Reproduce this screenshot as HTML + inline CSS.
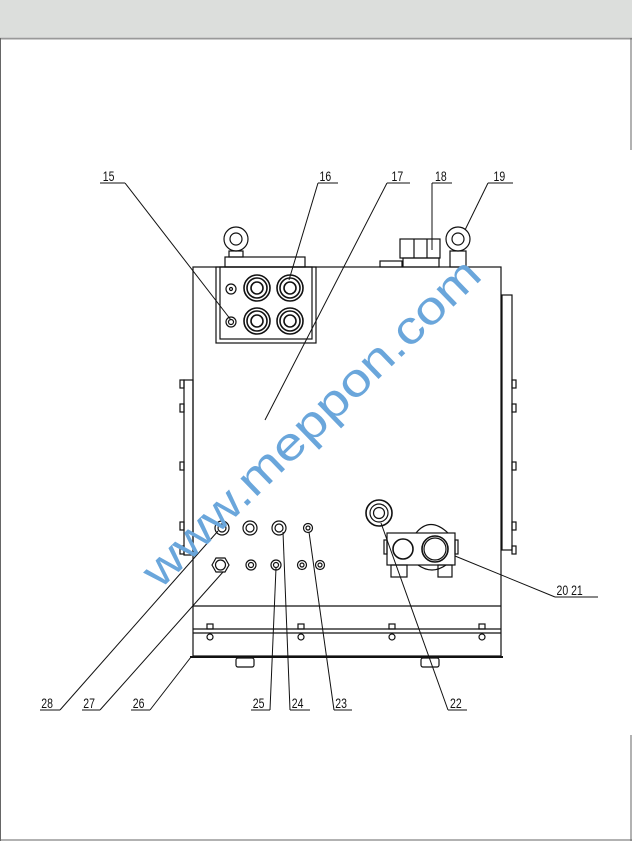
<!DOCTYPE html>
<html><head><meta charset="utf-8"><style>
html,body{margin:0;padding:0;width:632px;height:841px;overflow:hidden;background:#fff}
svg{display:block}
text{font-family:"Liberation Sans",sans-serif}
</style></head><body>
<svg width="632" height="841" viewBox="0 0 632 841">
<rect x="0" y="0" width="632" height="37" fill="#dcdedc"/>
<line x1="0" y1="38.5" x2="632" y2="38.5" stroke="#999" stroke-width="2"/>
<line x1="0.5" y1="38" x2="0.5" y2="841" stroke="#666"/>
<line x1="631" y1="38" x2="631" y2="150" stroke="#666"/>
<line x1="631" y1="735" x2="631" y2="841" stroke="#666"/>
<line x1="0" y1="840" x2="632" y2="840" stroke="#666"/>
<g fill="none" stroke="#111" stroke-width="1.2">
<rect x="193" y="267" width="308" height="389"/>
<line x1="193" y1="606" x2="501" y2="606"/>
<line x1="193" y1="629" x2="501" y2="629"/>
<line x1="193" y1="633" x2="501" y2="633"/>
<line x1="190" y1="657" x2="503" y2="657" stroke-width="2"/>
<rect x="502" y="295" width="10" height="255"/>
<rect x="184" y="380" width="9" height="175"/>
<rect x="180" y="380" width="4" height="8"/><rect x="180" y="404" width="4" height="8"/><rect x="180" y="462" width="4" height="8"/><rect x="180" y="522" width="4" height="8"/><rect x="180" y="546" width="4" height="8"/>
<rect x="512" y="380" width="4" height="8"/><rect x="512" y="404" width="4" height="8"/><rect x="512" y="462" width="4" height="8"/><rect x="512" y="522" width="4" height="8"/><rect x="512" y="546" width="4" height="8"/>
<g>
<circle cx="210" cy="637" r="3"/><rect x="207" y="624" width="6" height="5"/>
<circle cx="301" cy="637" r="3"/><rect x="298" y="624" width="6" height="5"/>
<circle cx="392" cy="637" r="3"/><rect x="389" y="624" width="6" height="5"/>
<circle cx="482" cy="637" r="3"/><rect x="479" y="624" width="6" height="5"/>
</g>
<rect x="236" y="658" width="18" height="9" rx="2"/>
<rect x="421" y="658" width="18" height="9" rx="2"/>
<rect x="216" y="267" width="100" height="76"/>
<rect x="220" y="267" width="92" height="72"/>
<rect x="225" y="257" width="80" height="10"/>
<circle cx="231" cy="289" r="5"/><circle cx="231" cy="289" r="1.5"/>
<circle cx="231" cy="322" r="5"/><circle cx="231" cy="322" r="2.5"/>
<g stroke-width="1.6">
<circle cx="257" cy="288" r="13"/><circle cx="257" cy="288" r="10"/><circle cx="257" cy="288" r="6"/>
<circle cx="290" cy="288" r="13"/><circle cx="290" cy="288" r="10"/><circle cx="290" cy="288" r="6"/>
<circle cx="257" cy="321" r="13"/><circle cx="257" cy="321" r="10"/><circle cx="257" cy="321" r="6"/>
<circle cx="290" cy="321" r="13"/><circle cx="290" cy="321" r="10"/><circle cx="290" cy="321" r="6"/>
</g>
<circle cx="236" cy="239" r="12"/><circle cx="236" cy="239" r="6"/>
<rect x="229" y="251" width="14" height="6"/>
<circle cx="458" cy="239" r="12"/><circle cx="458" cy="239" r="6"/>
<rect x="450" y="251" width="16" height="16"/>
<rect x="400" y="239" width="40" height="19"/>
<line x1="414" y1="239" x2="414" y2="258"/><line x1="427" y1="239" x2="427" y2="258"/>
<rect x="403" y="258" width="36" height="9"/>
<rect x="380" y="261" width="22" height="6"/>
<circle cx="222" cy="528" r="7"/><circle cx="222" cy="528" r="4"/>
<circle cx="250" cy="528" r="7"/><circle cx="250" cy="528" r="4"/>
<circle cx="279" cy="528" r="7"/><circle cx="279" cy="528" r="4"/>
<circle cx="308" cy="528" r="4.5"/><circle cx="308" cy="528" r="2"/>
<polygon points="212,565 216,558 225,558 229,565 225,572 216,572"/><circle cx="220.5" cy="565" r="5"/>
<circle cx="251" cy="565" r="5"/><circle cx="251" cy="565" r="2.5"/>
<circle cx="276" cy="565" r="5"/><circle cx="276" cy="565" r="2.5"/>
<circle cx="302" cy="565" r="4.5"/><circle cx="302" cy="565" r="2"/>
<circle cx="320" cy="565" r="4.5"/><circle cx="320" cy="565" r="2"/>
<circle cx="379" cy="513" r="13" stroke-width="1.6"/><circle cx="379" cy="513" r="9"/><circle cx="379" cy="513" r="5.5"/>
<path d="M416,533 Q430,516 448,533"/>
<path d="M418,565 Q432,575 446,565"/>
<rect x="387" y="533" width="68" height="32"/>
<rect x="384" y="540" width="3" height="14"/><rect x="455" y="540" width="3" height="14"/>
<circle cx="403" cy="549" r="10" stroke-width="1.6"/>
<circle cx="435" cy="549" r="13" stroke-width="1.6"/><circle cx="435" cy="549" r="11"/>
<rect x="391" y="565" width="16" height="12"/><rect x="438" y="565" width="14" height="12"/>
<g stroke-width="1">
<line x1="100" y1="183" x2="125" y2="183"/><line x1="125" y1="183" x2="231" y2="320"/>
<line x1="318" y1="183" x2="338" y2="183"/><line x1="318" y1="183" x2="289" y2="280"/>
<line x1="387" y1="183" x2="410" y2="183"/><line x1="387" y1="183" x2="265" y2="420"/>
<line x1="432" y1="183" x2="452" y2="183"/><line x1="432" y1="183" x2="432" y2="250"/>
<line x1="488" y1="183" x2="513" y2="183"/><line x1="488" y1="183" x2="465" y2="230"/>
<line x1="40" y1="710" x2="60" y2="710"/><line x1="60" y1="710" x2="218" y2="531"/>
<line x1="82" y1="710" x2="100" y2="710"/><line x1="100" y1="710" x2="223" y2="572"/>
<line x1="131" y1="710" x2="150" y2="710"/><line x1="150" y1="710" x2="191" y2="657"/>
<line x1="251" y1="710" x2="270" y2="710"/><line x1="270" y1="710" x2="276" y2="568"/>
<line x1="290" y1="710" x2="310" y2="710"/><line x1="290" y1="710" x2="283" y2="532"/>
<line x1="334" y1="710" x2="352" y2="710"/><line x1="334" y1="710" x2="309" y2="532"/>
<line x1="448" y1="710" x2="467" y2="710"/><line x1="448" y1="710" x2="381" y2="523"/>
<line x1="555" y1="597" x2="598" y2="597"/><line x1="555" y1="597" x2="455" y2="556"/>
</g>
</g>
<g font-size="14" fill="#111" transform="scale(0.75,1)">
<text x="137" y="181">15</text>
<text x="426" y="181">16</text>
<text x="522" y="181">17</text>
<text x="580" y="181">18</text>
<text x="658" y="181">19</text>
<text x="55" y="708">28</text>
<text x="111" y="708">27</text>
<text x="177" y="708">26</text>
<text x="337" y="708">25</text>
<text x="389" y="708">24</text>
<text x="447" y="708">23</text>
<text x="600" y="708">22</text>
<text x="742" y="595">20 21</text>
</g>
<text x="0" y="0" font-size="46" fill="#6aa6db" transform="translate(160,590) rotate(-44)" textLength="450" lengthAdjust="spacingAndGlyphs">www.meppon.com</text>
</svg>
</body></html>
